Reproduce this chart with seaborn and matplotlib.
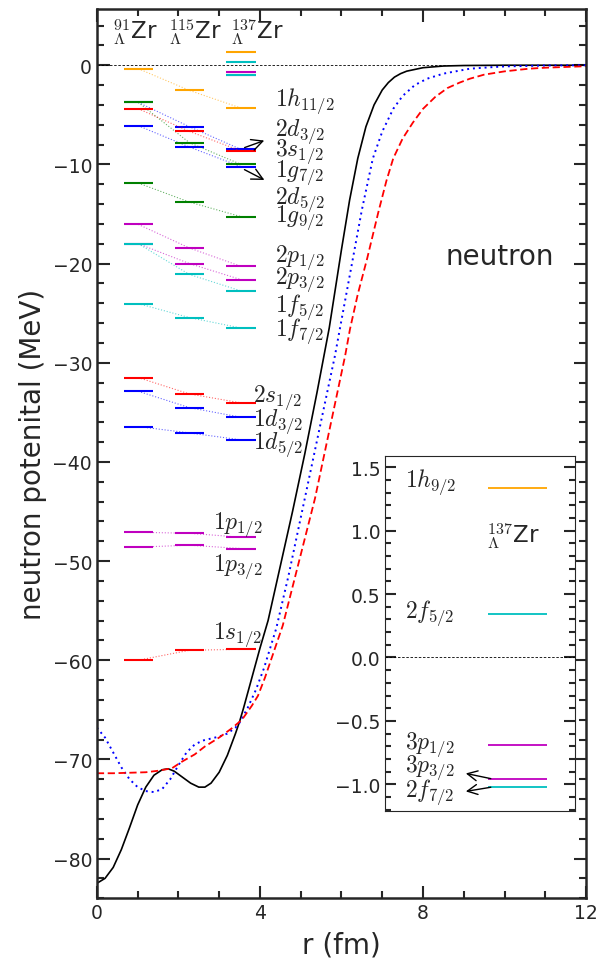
import numpy as np
import pandas as pd
import seaborn as sns
import matplotlib
matplotlib.use("Agg")
import matplotlib.pyplot as plt
from matplotlib.ticker import MultipleLocator

# potential curves (r in fm, V in MeV)
r_black = [0.0, 0.2, 0.4, 0.6, 0.8, 1.0, 1.2, 1.4, 1.6, 1.75, 1.9, 2.1, 2.3, 2.5, 2.65, 2.8, 3.0,
           3.2, 3.4, 3.5, 3.6, 3.8, 4.0, 4.2, 4.5, 4.8, 5.1, 5.4, 5.7, 6.0, 6.2, 6.4, 6.6, 6.8,
           7.0, 7.15, 7.3, 7.45, 7.6, 8.0, 8.5, 9.0, 10.0, 12.0]
v_black = [-82.5, -82.0, -80.9, -79.1, -76.9, -74.6, -72.8, -71.6, -71.05, -70.95, -71.2, -71.8,
           -72.4, -72.8, -72.8, -72.4, -71.3, -69.6, -67.4, -66.2, -64.8, -61.8, -58.8, -56.0,
           -50.5, -45.0, -39.2, -33.0, -26.5, -18.6, -13.6, -9.4, -6.2, -4.0, -2.5, -1.75, -1.2,
           -0.85, -0.6, -0.25, -0.08, -0.03, 0.0, 0.0]
r_blue = [0.0, 0.2, 0.4, 0.6, 0.8, 1.0, 1.2, 1.4, 1.6, 1.8, 2.0, 2.2, 2.4, 2.6, 2.8, 3.0, 3.2,
          3.4, 3.5, 3.7, 3.9, 4.1, 4.4, 4.7, 5.1, 5.5, 5.84, 5.96, 6.28, 6.5, 6.77, 7.0, 7.27,
          7.5, 7.8, 8.1, 8.5, 9.15, 9.6, 10.0, 11.0, 12.0]
v_blue = [-66.8, -67.8, -69.3, -70.8, -72.0, -72.8, -73.2, -73.3, -73.0, -72.0, -70.6, -69.3,
          -68.5, -68.1, -67.9, -67.7, -67.4, -66.8, -66.3, -64.8, -63.0, -60.8, -56.8, -51.5,
          -43.7, -35.9, -29.3, -26.6, -19.5, -14.6, -9.4, -6.7, -4.4, -3.1, -2.0, -1.36, -0.85,
          -0.35, -0.22, -0.12, -0.03, 0.0]
r_red = [0.0, 0.4, 0.8, 1.2, 1.5, 1.84, 2.1, 2.4, 2.65, 3.0, 3.3, 3.56, 3.8, 3.95, 4.12, 4.56,
         5.35, 6.09, 6.21, 6.4, 6.63, 6.9, 7.1, 7.27, 7.5, 7.75, 8.0, 8.3, 8.6, 8.9, 9.15, 9.5,
         10.0, 10.6, 11.0, 12.0]
v_red = [-71.4, -71.4, -71.35, -71.3, -71.15, -70.9, -70.2, -69.5, -68.7, -67.8, -66.9, -66.0,
         -64.6, -63.6, -61.8, -56.5, -43.7, -29.3, -26.6, -23.1, -19.5, -14.9, -11.7, -9.4,
         -7.4, -5.8, -4.4, -3.2, -2.3, -1.75, -1.36, -0.95, -0.62, -0.35, -0.25, -0.1]

# single-particle levels for 91, 115, 137 Lambda-Zr (MeV)
states = ["1s", "1p32", "1p12", "1d52", "2s", "1d32", "1f72", "2p32", "1f52", "2p12",
          "1g92", "2d52", "2d32", "1g72", "3s", "1h112"]
colors = ["red", "m", "m", "blue", "red", "blue", "c", "m", "c", "m",
          "green", "blue", "blue", "green", "red", "orange"]
e_91 = [-60.0, -48.6, -47.1, -36.44, -31.5, -32.88, -24.04, -18.0, -18.0, -16.05,
        -11.88, -6.1, -3.75, -3.75, -4.39, -0.35]
e_115 = [-59.0, -48.4, -47.2, -37.08, -33.15, -34.53, -25.45, -20.0, -21.1, -18.43,
         -13.8, -8.25, -6.2, -7.81, -6.67, -2.54]
e_137 = [-58.9, -48.74, -47.6, -37.78, -34.05, -35.5, -26.5, -21.62, -22.76, -20.28,
         -15.27, -10.23, -8.49, -10.0, -8.65, -4.32]

# weakly bound / unbound levels only in 137 Lambda-Zr (inset)
top_labels = [r"$1h_{9/2}$", r"$2f_{5/2}$", r"$3p_{1/2}$", r"$3p_{3/2}$", r"$2f_{7/2}$"]
top_colors = ["orange", "c", "m", "m", "c"]
top_e = [1.34, 0.34, -0.69, -0.96, -1.02]

sns.set_style("ticks")
plt.rcParams["font.family"] = ["DejaVu Sans"]
plt.rcParams["mathtext.fontset"] = "cm"

fig = plt.figure(figsize=(5.98, 9.70), dpi=100)
ax = fig.add_axes([0.162, 0.073, 0.818, 0.917])

ax.axhline(0, color="k", lw=0.6, ls=(0, (3, 2)))
sns.lineplot(x=r_black, y=v_black, ax=ax, color="k", lw=1.2)
sns.lineplot(x=r_blue, y=v_blue, ax=ax, color="blue", lw=1.4, linestyle=(0, (1, 2)))
sns.lineplot(x=r_red, y=v_red, ax=ax, color="red", lw=1.3, linestyle=(0, (4, 2)))

cols = [(0.66, 1.37), (1.91, 2.63), (3.17, 3.90)]
centers = [0.5 * (a + b) for a, b in cols]
for i in range(len(states)):
    es = [e_91[i], e_115[i], e_137[i]]
    ax.plot(centers, es, color=colors[i], lw=0.8, ls=":", alpha=0.6)
    for (a, b), e in zip(cols, es):
        ax.hlines(e, a, b, color=colors[i], lw=1.5)
for e, c in zip(top_e, top_colors):
    ax.hlines(e, *cols[2], color=c, lw=1.5)

lvl = dict(fontsize=17, va="center", ha="left")
ax.text(4.37, -3.55, r"$1h_{11/2}$", **lvl)
ax.text(4.37, -6.57, r"$2d_{3/2}$", **lvl)
ax.text(4.37, -8.6, r"$3s_{1/2}$", **lvl)
ax.text(4.37, -10.7, r"$1g_{7/2}$", **lvl)
ax.text(4.37, -13.45, r"$2d_{5/2}$", **lvl)
ax.text(4.37, -15.3, r"$1g_{9/2}$", **lvl)
ax.text(4.37, -19.3, r"$2p_{1/2}$", **lvl)
ax.text(4.37, -21.5, r"$2p_{3/2}$", **lvl)
ax.text(4.37, -24.3, r"$1f_{5/2}$", **lvl)
ax.text(4.37, -26.7, r"$1f_{7/2}$", **lvl)
ax.text(3.83, -33.4, r"$2s_{1/2}$", **lvl)
ax.text(3.83, -35.8, r"$1d_{3/2}$", **lvl)
ax.text(3.83, -38.15, r"$1d_{5/2}$", **lvl)
ax.text(2.85, -46.2, r"$1p_{1/2}$", **lvl)
ax.text(2.85, -50.5, r"$1p_{3/2}$", **lvl)
ax.text(2.85, -57.3, r"$1s_{1/2}$", **lvl)

arw = dict(arrowstyle="->", color="k", lw=1.0, mutation_scale=20)
ax.annotate("", xy=(4.17, -7.5), xytext=(3.56, -8.4), arrowprops=arw)
ax.annotate("", xy=(4.17, -11.7), xytext=(3.56, -10.4), arrowprops=arw)

for x, a in zip([0.92, 2.4, 3.93], ["91", "115", "137"]):
    ax.text(x, 3.4, r"${}^{%s}_{\Lambda}$" % a + "Zr", fontsize=16.5, ha="center", va="center")

ax.text(9.89, -19.2, "neutron", fontsize=20, ha="center", va="center")

ax.set_xlim(0, 12)
ax.set_ylim(-84, 5.7)
ax.set_xticks([0, 4, 8, 12])
ax.set_yticks([-80, -70, -60, -50, -40, -30, -20, -10, 0])
ax.xaxis.set_minor_locator(MultipleLocator(1))
ax.yaxis.set_minor_locator(MultipleLocator(2))
ax.tick_params(which="both", direction="in", top=True, right=True, labelsize=13.5, width=1.5)
ax.tick_params(which="major", length=9)
ax.tick_params(which="minor", length=5)
for s in ax.spines.values():
    s.set_linewidth(1.8)
ax.set_xlabel("r (fm)", fontsize=20, labelpad=6)
ax.set_ylabel("neutron potenital (MeV)", fontsize=20, labelpad=4)

# inset for 137 Lambda-Zr levels near threshold
ins = fig.add_axes([0.644, 0.163, 0.318, 0.366])
ins.set_facecolor("white")
ins.axhline(0, color="k", lw=0.6, ls=(0, (3, 2)))
for e, c in zip(top_e, top_colors):
    ins.hlines(e, 0.54, 0.85, color=c, lw=1.3)
ins_lab_y = [1.39, 0.355, -0.68, -0.86, -1.05]
for t, y in zip(top_labels, ins_lab_y):
    ins.text(0.105, y, t, fontsize=17, va="center", ha="left")
arw2 = dict(arrowstyle="->", color="k", lw=1.0, mutation_scale=18)
ins.annotate("", xy=(0.41, -0.91), xytext=(0.57, -0.96), arrowprops=arw2)
ins.annotate("", xy=(0.41, -1.06), xytext=(0.57, -1.02), arrowprops=arw2)
ins.text(0.67, 0.96, r"${}^{137}_{\Lambda}$" + "Zr", fontsize=16.5, ha="center", va="center")
ins.set_xlim(0, 1)
ins.set_ylim(-1.21, 1.59)
ins.set_xticks([])
ins.yaxis.set_major_locator(MultipleLocator(0.5))
ins.yaxis.set_minor_locator(MultipleLocator(0.1))
ins.tick_params(which="both", direction="in", right=True, labelsize=13.5, width=1.5)
ins.tick_params(which="major", length=8)
ins.tick_params(which="minor", length=4)
for s in ins.spines.values():
    s.set_linewidth(0.8)

fig.savefig("out.png", dpi=100)
